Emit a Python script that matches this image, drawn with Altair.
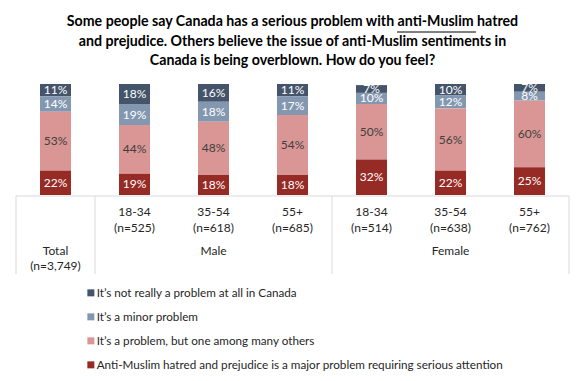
import altair as alt
import pandas as pd

FONT = "Lato"
TITLE_LINES = [
    "Some people say Canada has a serious problem with anti-Muslim hatred",
    "and prejudice. Others believe the issue of anti-Muslim sentiments in",
    "Canada is being overblown. How do you feel?",
]
GROUPS = ["Total", "M18-34", "M35-54", "M55+", "F18-34", "F35-54", "F55+"]
AGES = ["", "18-34", "35-54", "55+", "18-34", "35-54", "55+"]
NS = ["(n=3,749)", "(n=525)", "(n=618)", "(n=685)", "(n=514)", "(n=638)", "(n=762)"]
GENDER_AT = ["M35-54", "F35-54"]
GENDERS = ["Male", "Female"]
SERIES = [
    "It\u2019s not really a problem at all in Canada",
    "It\u2019s a minor problem",
    "It\u2019s a problem, but one among many others",
    "Anti-Muslim hatred and prejudice is a major problem requiring serious attention",
]
COLORS = ["#44546A", "#8497B0", "#DA9694", "#962A24"]
NOT_AT_ALL = [11, 18, 16, 11, 7, 10, 7]
MINOR = [14, 19, 18, 17, 10, 12, 8]
AMONG_MANY = [53, 44, 48, 54, 50, 56, 60]
MAJOR = [22, 19, 18, 18, 32, 22, 25]

rows = []
for i, g in enumerate(GROUPS):
    for s, vals, o in zip(SERIES, [NOT_AT_ALL, MINOR, AMONG_MANY, MAJOR], [4, 3, 2, 1]):
        rows.append({"group": g, "series": s, "value": vals[i], "ord": o})
df = pd.DataFrame(rows)

xs = alt.Scale(domain=GROUPS, range=[8, 561], paddingInner=0, paddingOuter=0)
ys = alt.Scale(domain=[0, 100], range=[187, 76])
cs = alt.Scale(domain=SERIES, range=COLORS)

base = alt.Chart(df).transform_stack(
    stack="value", groupby=["group"],
    sort=[alt.SortField("ord", order="ascending")], as_=["y0", "y1"]
).transform_calculate(mid="(datum.y0 + datum.y1) / 2", label="datum.value + '%'")

bars = base.mark_bar(size=31).encode(
    x=alt.X("group:N", scale=xs, axis=None),
    y=alt.Y("y0:Q", scale=ys, axis=None),
    y2="y1:Q",
    color=alt.Color("series:N", scale=cs, legend=alt.Legend(
        title=None, orient="none", legendX=77, legendY=279, direction="vertical",
        symbolType="square", symbolSize=49, symbolStrokeWidth=0,
        labelFont=FONT, labelFontSize=11.7, labelColor="#262626", labelLimit=600,
        rowPadding=11, labelOffset=0, padding=0)),
)
labels = base.mark_text(font=FONT, fontSize=12).encode(
    x=alt.X("group:N", scale=xs, axis=None),
    y=alt.Y("mid:Q", scale=ys, axis=None),
    text="label:N",
    color=alt.condition(alt.datum.series == SERIES[2], alt.value("#404040"), alt.value("white")),
)

tdf = pd.DataFrame({"group": GROUPS[1:], "age": AGES[1:], "n": NS[1:]})
tot = pd.DataFrame({"group": [GROUPS[0]], "a": ["Total"], "b": [NS[0]]})
gdf = pd.DataFrame({"group": GENDER_AT, "g": GENDERS})
TXT = dict(font=FONT, fontSize=12, color="#262626")
xe = alt.X("group:N", scale=xs, axis=None)

age_t = alt.Chart(tdf).mark_text(**TXT).encode(x=xe, y=alt.value(204), text="age:N")
n_t = alt.Chart(tdf).mark_text(**TXT).encode(x=xe, y=alt.value(220), text="n:N")
tot_a = alt.Chart(tot).mark_text(**TXT).encode(x=xe, y=alt.value(243), text="a:N")
tot_b = alt.Chart(tot).mark_text(**TXT).encode(x=xe, y=alt.value(258), text="b:N")
g_t = alt.Chart(gdf).mark_text(**TXT).encode(x=xe, y=alt.value(243), text="g:N")

edges0 = pd.DataFrame({"group": ["Total", "M18-34", "F18-34"]})
edges1 = pd.DataFrame({"group": ["F55+"]})
GRID = "#D9D9D9"
v0 = alt.Chart(edges0).mark_rule(color=GRID, strokeWidth=1).encode(
    x=alt.X("group:N", scale=xs, axis=None, bandPosition=0), y=alt.value(188), y2=alt.value(266))
v1 = alt.Chart(edges1).mark_rule(color=GRID, strokeWidth=1).encode(
    x=alt.X("group:N", scale=xs, axis=None, bandPosition=1), y=alt.value(188), y2=alt.value(266))
hline = alt.Chart(edges1).mark_rule(color=GRID, strokeWidth=1).encode(
    x=alt.value(8), x2=alt.value(561), y=alt.value(188))

one = pd.DataFrame({"k": [0]})
title = alt.Chart(one).mark_text(
    text=TITLE_LINES, font=FONT, fontSize=14.2, fontWeight="bold", color="#000000",
    lineHeight=19.5, align="center", baseline="middle"
).encode(x=alt.value(284.5), y=alt.value(14))
underline = alt.Chart(one).mark_rule(color="#000000", strokeWidth=1).encode(
    x=alt.value(389), x2=alt.value(468), y=alt.value(24))

chart = alt.layer(hline, v0, v1, bars, labels, age_t, n_t, tot_a, tot_b, g_t, title, underline).properties(
    width=568, height=365, autosize=alt.AutoSizeParams(type="none"), padding=0
).configure_view(strokeWidth=0)

chart.save("out.html", embed_options={"renderer": "svg", "actions": False})
